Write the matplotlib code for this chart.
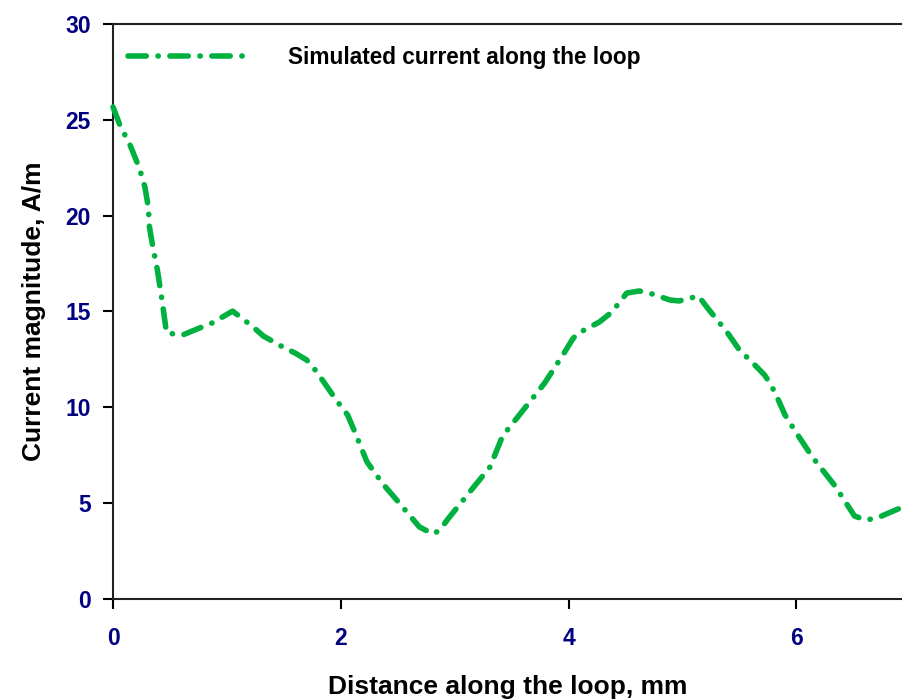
import matplotlib
matplotlib.use("Agg")
import matplotlib.pyplot as plt

plt.rcParams['font.family'] = ['Liberation Sans', 'DejaVu Sans']

# Simulated current magnitude along the loop
distance_mm = [0.00, 0.06, 0.15, 0.21, 0.25, 0.28, 0.31, 0.32, 0.35, 0.39,
               0.43, 0.47, 0.61, 0.76, 0.87, 1.05, 1.13, 1.23, 1.32, 1.49,
               1.60, 1.70, 1.75, 1.82, 1.96, 2.06, 2.12, 2.23, 2.37, 2.52,
               2.69, 2.81, 2.87, 2.94, 3.16, 3.31, 3.42, 3.63, 3.79, 3.96,
               4.03, 4.07, 4.27, 4.38, 4.51, 4.62, 4.71, 4.89, 4.97, 5.14,
               5.22, 5.39, 5.50, 5.61, 5.72, 5.75, 5.81, 5.90, 6.00, 6.14,
               6.34, 6.51, 6.61, 6.71, 6.89, 6.95]
current_A_per_m = [25.67, 24.73, 23.68, 22.80, 22.12, 21.49, 20.45, 19.41, 18.36, 17.16,
                   15.60, 13.88, 13.77, 14.14, 14.40, 15.02, 14.66, 14.19, 13.72, 13.15,
                   12.83, 12.47, 12.15, 11.58, 10.38, 9.60, 8.76, 7.15, 6.00, 4.96,
                   3.76, 3.39, 3.60, 4.17, 5.79, 6.89, 8.50, 10.07, 11.27, 12.83,
                   13.51, 13.82, 14.45, 14.97, 15.96, 16.07, 15.96, 15.60, 15.55, 15.81,
                   15.18, 13.93, 12.99, 12.36, 11.69, 11.42, 10.80, 9.60, 8.66, 7.41,
                   5.89, 4.33, 4.12, 4.23, 4.69, 4.85]

x_ticks = [0, 2, 4, 6]
y_ticks = [0, 5, 10, 15, 20, 25, 30]
x_max = 6.927
y_max = 30

W, H = 902, 699
fig = plt.figure(figsize=(W / 100, H / 100), dpi=100)
left, right, top, bottom = 113, 902, 24, 599
ax = fig.add_axes([left / W, (H - bottom) / H, (right - left) / W, (bottom - top) / H])

line_color = '#00B140'
ax.plot(distance_mm, current_A_per_m, color=line_color, lw=4.0,
        dashes=(3.3, 2.1, 0.05, 2.1), dash_capstyle='round',
        solid_capstyle='round', label='Simulated current along the loop',
        clip_on=False, zorder=3)

ax.set_xlim(0, x_max)
ax.set_ylim(0, y_max)
ax.set_xticks(x_ticks)
ax.set_yticks(y_ticks)

tick_color = '#000080'
ax.tick_params(axis='both', direction='out', length=7, width=1.5,
               colors='black', labelcolor=tick_color, labelsize=16.5)
ax.tick_params(axis='x', pad=13)
ax.tick_params(axis='y', pad=9)
for lab in ax.get_xticklabels() + ax.get_yticklabels():
    lab.set_fontweight('bold')

for name in ('left', 'bottom', 'top'):
    ax.spines[name].set_linewidth(1.5)
    ax.spines[name].set_color('#222222')
ax.spines['right'].set_visible(False)

ax.set_xlabel('Distance along the loop, mm', fontsize=19, fontweight='bold',
              labelpad=18)
ax.set_ylabel('Current magnitude, A/m', fontsize=19, fontweight='bold',
              labelpad=14)

ax.legend(loc='center left', bbox_to_anchor=(0.019, 0.9426), frameon=False,
          borderpad=0, borderaxespad=0, handlelength=5.45, handletextpad=1.6,
          prop={'weight': 'bold', 'size': 16.3})

fig.savefig('out.png', dpi=100)
